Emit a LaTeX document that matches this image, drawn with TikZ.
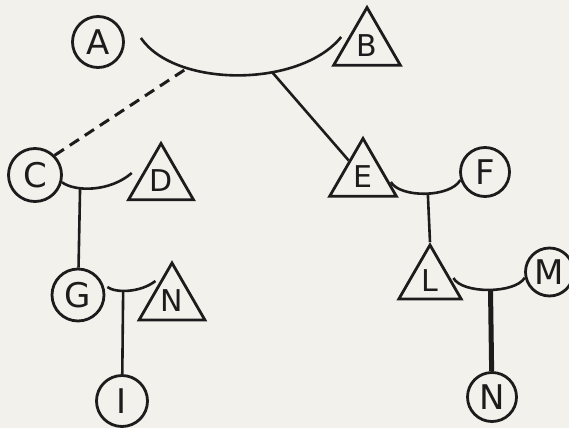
\documentclass[tikz,border=0pt]{standalone}
\usepackage{fontspec}
\setmainfont{DejaVu Sans}
\usetikzlibrary{shapes.geometric}
\definecolor{paper}{RGB}{243,241,235}
\definecolor{ink}{RGB}{28,28,28}
\begin{document}
\begin{tikzpicture}[x=1pt,y=-1pt,
  fem/.style={circle, draw=ink, line width=2.8pt, inner sep=0pt, text=ink,
    font=\fontsize{34}{34}\selectfont},
  mal/.style={regular polygon, regular polygon sides=3, draw=ink, line width=2.8pt,
    inner sep=0pt, text=ink, font=\fontsize{30}{30}\selectfont},
  link/.style={draw=ink, line width=2.6pt},
  kin/.style={link, line width=3pt, dash pattern=on 11pt off 7pt},
  heavy/.style={draw=ink, line width=5pt}]
\fill[paper] (0,0) rectangle (569,428);
\useasboundingbox (0,0) rectangle (569,428);
% persons
\node[fem, minimum size=51pt] (A) at (98,42) {A};
\node[mal, minimum size=77pt] (B) at (367,46) {B};
\node[fem, minimum size=53pt] (C) at (35,175) {C};
\node[mal, minimum size=75pt] (D) at (161,181) {D};
\node[mal, minimum size=77pt] (E) at (363,177) {E};
\node[fem, minimum size=49pt] (F) at (485,172) {F};
\node[fem, minimum size=52pt] (G) at (78,295) {G};
\node[mal, minimum size=76pt] (N1) at (172,301) {N};
\node[fem, minimum size=51pt] (I) at (122,401) {I};
\node[mal, minimum size=72pt] (L) at (430,281) {L};
\node[fem, minimum size=48pt] (M) at (549.5,272) {M};
\node[fem, minimum size=49pt] (N2) at (492,397) {N};
% marriages
\draw[link] ([shift={(16,-4)}]A.east) .. controls (175,88) and (300,88) .. ([shift={(-2,-9)}]B.west)
  coordinate[pos=0.28] (ab1) coordinate[pos=0.64] (ab2);
\draw[link] (C.-15) .. controls (75,192) and (110,192) .. ([shift={(-6,-8)}]D.west)
  coordinate[pos=0.32] (cd);
\draw[link] ([shift={(2,-8)}]G.east) .. controls (115,293) and (140,293) .. ([shift={(7,-20)}]N1.west)
  coordinate[pos=0.4] (gn);
\draw[link] ([shift={(4,5)}]E.east) .. controls (400,198) and (450,198) .. (F.198)
  coordinate[pos=0.53] (ef);
\draw[link] ([shift={(1,-3)}]L.east) .. controls (462,294) and (515,294) .. (M.193)
  coordinate[pos=0.52] (lm);
% descent
\draw[kin] (C.45) -- (ab1);
\draw[link] (ab2) -- (E);
\draw[link] (cd) -- (G);
\draw[link] (gn) -- (I);
\draw[link] (ef) -- (L.north);
\draw[heavy] (lm) -- (N2);
\end{tikzpicture}
\end{document}
